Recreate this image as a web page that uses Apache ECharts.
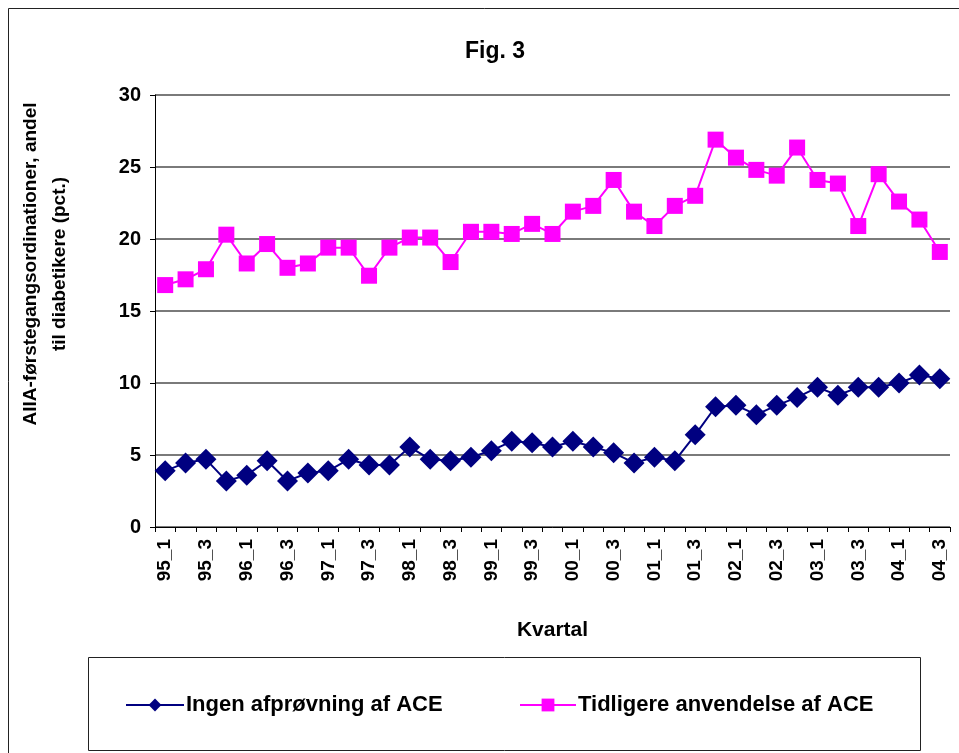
<!DOCTYPE html>
<html>
<head>
<meta charset="utf-8">
<script src="https://cdn.jsdelivr.net/npm/echarts@6/dist/echarts.min.js"></script>
<style>
html,body{margin:0;padding:0;background:#fff;}
#c{width:959px;height:753px;}
</style>
</head>
<body>
<div id="c"></div>
<script>
const categories = [
  '95_1','95_2','95_3','95_4','96_1','96_2','96_3','96_4','97_1','97_2','97_3','97_4',
  '98_1','98_2','98_3','98_4','99_1','99_2','99_3','99_4','00_1','00_2','00_3','00_4',
  '01_1','01_2','01_3','01_4','02_1','02_2','02_3','02_4','03_1','03_2','03_3','03_4',
  '04_1','04_2','04_3'
];
const seriesNames = ['Ingen afprøvning af ACE', 'Tidligere anvendelse af ACE'];
const ingenValues = [
  3.9, 4.45, 4.7, 3.2, 3.6, 4.6, 3.2, 3.75, 3.9, 4.7, 4.3, 4.3,
  5.55, 4.7, 4.6, 4.85, 5.3, 5.95, 5.85, 5.55, 5.95, 5.55, 5.15, 4.45,
  4.85, 4.6, 6.4, 8.35, 8.45, 7.8, 8.45, 9.0, 9.7, 9.15, 9.7, 9.7,
  10.0, 10.55, 10.3
];
const tidligereValues = [
  16.8, 17.2, 17.9, 20.3, 18.3, 19.65, 18.0, 18.3, 19.4, 19.4, 17.45, 19.4,
  20.1, 20.1, 18.4, 20.5, 20.5, 20.35, 21.05, 20.35, 21.9, 22.3, 24.1, 21.9,
  20.9, 22.3, 23.0, 26.9, 25.65, 24.8, 24.4, 26.35, 24.1, 23.85, 20.9, 24.5,
  22.6, 21.35, 19.1
];
const yTicks = {min: 0, max: 30, interval: 5};
const titleText = 'Fig. 3';
const yAxisTitle = 'AIIA-førstegangsordinationer, andel\ntil diabetikere (pct.)';
const xAxisTitle = 'Kvartal';

const FONT = '"Liberation Sans", Arial, sans-serif';
const chart = echarts.init(document.getElementById('c'), null, {renderer: 'canvas'});

chart.setOption({
  animation: false,
  backgroundColor: '#fff',
  title: {
    text: titleText, left: 490, top: 35, textAlign: 'center',
    textStyle: {fontFamily: FONT, fontWeight: 'bold', fontSize: 23, color: '#000'}
  },
  grid: {left: 155, right: 9, top: 95, bottom: 226, containLabel: false},
  graphic: [
    {type: 'rect', shape: {x: 8.5, y: 8.5, width: 1000, height: 1000},
     style: {fill: 'none', stroke: '#222', lineWidth: 1}, silent: true, z: -10},
    {type: 'rect', shape: {x: 88.5, y: 657.5, width: 832, height: 93},
     style: {fill: '#fff', stroke: '#222', lineWidth: 1}, silent: true, z: -5},
    {type: 'text', x: 45, y: 264, rotation: Math.PI / 2,
     style: {text: yAxisTitle, fontFamily: FONT, fontWeight: 'bold', fontSize: 19,
       fill: '#000', align: 'center', verticalAlign: 'middle', lineHeight: 29}}
  ],
  legend: [
    {data: [seriesNames[0]], left: 125, top: 694, padding: 0, itemWidth: 58, itemHeight: 16, itemGap: 0,
     textStyle: {fontFamily: FONT, fontWeight: 'bold', fontSize: 22, color: '#000', padding: [0, 0, 0, -3]}},
    {data: [seriesNames[1]], left: 519, top: 694, padding: 0, itemWidth: 56, itemHeight: 16, itemGap: 0,
     textStyle: {fontFamily: FONT, fontWeight: 'bold', fontSize: 22, color: '#000', padding: [0, 0, 0, -3]}}
  ],
  xAxis: {
    type: 'category', data: categories, boundaryGap: true,
    name: xAxisTitle, nameLocation: 'middle', nameGap: 93,
    nameTextStyle: {fontFamily: FONT, fontWeight: 'bold', fontSize: 21, color: '#000'},
    axisLine: {lineStyle: {color: '#000', width: 1}},
    axisTick: {show: true, interval: 0, length: 5, alignWithLabel: false, lineStyle: {color: '#000'}},
    axisLabel: {interval: 1, rotate: 90, margin: 12, fontFamily: FONT, fontWeight: 'bold', fontSize: 19, color: '#000'},
    splitLine: {show: false}
  },
  yAxis: {
    type: 'value', min: yTicks.min, max: yTicks.max, interval: yTicks.interval,
    axisLine: {show: true, lineStyle: {color: '#000', width: 1}},
    axisTick: {show: true, length: 5, lineStyle: {color: '#000'}},
    axisLabel: {margin: 14, fontFamily: FONT, fontWeight: 'bold', fontSize: 20, color: '#000'},
    splitLine: {show: true, lineStyle: {color: '#7a7a7a', width: 2}}
  },
  series: [
    {name: seriesNames[0], type: 'line', data: ingenValues,
     symbol: 'diamond', symbolSize: 21, showAllSymbol: true,
     lineStyle: {color: '#000080', width: 2}, itemStyle: {color: '#000080'}, z: 3},
    {name: seriesNames[1], type: 'line', data: tidligereValues,
     symbol: 'rect', symbolSize: 16, showAllSymbol: true,
     lineStyle: {color: '#ff00ff', width: 2}, itemStyle: {color: '#ff00ff'}, z: 2}
  ]
});
</script>
</body>
</html>
